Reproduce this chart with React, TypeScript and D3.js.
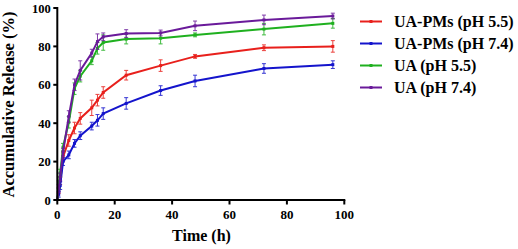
import React from "react";
import * as d3 from "d3";

const times = [0.5, 1, 2, 4, 6, 8, 12, 14, 16, 24, 36, 48, 72, 96];
const seriesNames = ["UA-PMs (pH 5.5)", "UA-PMs (pH 7.4)", "UA (pH 5.5)", "UA (pH 7.4)"];
const seriesColors = ["#e8201c", "#1414cc", "#1fb01f", "#6a1a9a"];
const pmsPh55 = [5, 10, 22.5, 31, 37.5, 42.5, 48, 52, 56, 65, 70, 74.8, 79.3, 80];
const pmsPh55Err = [1.5, 2, 2.5, 3, 3, 3, 4, 3, 3, 2.5, 3, 1, 1.5, 3];
const pmsPh74 = [3, 7.5, 20, 23.5, 29.5, 33.5, 38.5, 41.5, 45, 50.3, 57, 62, 68.5, 70.5];
const pmsPh74Err = [1.5, 2, 2, 2, 2, 2, 2, 3, 3, 3, 2.5, 3, 2.5, 2];
const uaPh55 = [8, 14, 27.5, 40.5, 58, 64.5, 72.5, 79, 82, 83.8, 84.3, 86, 89, 92];
const uaPh55Err = [2, 2, 2, 3, 3, 3, 2, 3, 4, 2.5, 3, 1, 3, 2.5];
const uaPh74 = [6, 12, 25, 43.5, 60, 67.5, 76.5, 82.5, 85, 86.7, 87, 90.7, 93.8, 95.8];
const uaPh74Err = [2, 2, 2, 3, 3, 5, 2, 4, 2, 2, 1.5, 2.5, 2.5, 1.5];
const xTicks = [0, 20, 40, 60, 80, 100];
const yTicks = [0, 20, 40, 60, 80, 100];

const allValues = [pmsPh55, pmsPh74, uaPh55, uaPh74];
const allErrors = [pmsPh55Err, pmsPh74Err, uaPh55Err, uaPh74Err];

export default function App() {
  const W = 518, H = 249;
  const x = d3.scaleLinear().domain([0, 100]).range([57.3, 344.3]);
  const y = d3.scaleLinear().domain([0, 100]).range([200, 8]);
  const font = "Liberation Serif";
  const line = d3
    .line<[number, number]>()
    .x((d) => x(d[0]))
    .y((d) => y(d[1]));

  return (
    <svg width={W} height={H} style={{ position: "absolute", left: 0, top: 0, background: "#fff" }}>
      {allValues.map((vals, si) => {
        const c = seriesColors[si];
        const pts: [number, number][] = [[0, 0], ...times.map((t, i) => [t, vals[i]] as [number, number])];
        return (
          <g key={si}>
            <path d={line(pts) || ""} fill="none" stroke={c} strokeWidth={2} />
            {times.map((t, i) => {
              const e = allErrors[si][i];
              const cx = x(t);
              return (
                <g key={i} stroke={c} strokeWidth={1} opacity={0.85}>
                  <line x1={cx} x2={cx} y1={y(vals[i] - e)} y2={y(vals[i] + e)} />
                  <line x1={cx - 2} x2={cx + 2} y1={y(vals[i] - e)} y2={y(vals[i] - e)} />
                  <line x1={cx - 2} x2={cx + 2} y1={y(vals[i] + e)} y2={y(vals[i] + e)} />
                </g>
              );
            })}
            {times.map((t, i) => (
              <rect key={"m" + i} x={x(t) - 1.5} y={y(vals[i]) - 1.5} width={3} height={3} fill={c} />
            ))}
          </g>
        );
      })}
      {/* axes */}
      <line x1={x(0)} x2={x(0)} y1={y(100) - 1} y2={y(0) + 1} stroke="#000" strokeWidth={2} />
      <line x1={x(0) - 1} x2={x(100) + 1} y1={y(0)} y2={y(0)} stroke="#000" strokeWidth={2} />
      {yTicks.map((v) => (
        <g key={v}>
          <line x1={x(0) - 4} x2={x(0)} y1={y(v)} y2={y(v)} stroke="#000" strokeWidth={2} />
          <text x={x(0) - 6.5} y={y(v) + 4.5} textAnchor="end" fontFamily={font} fontWeight="bold" fontSize={12.5}>
            {v}
          </text>
        </g>
      ))}
      {xTicks.map((v) => (
        <g key={v}>
          <line x1={x(v)} x2={x(v)} y1={y(0)} y2={y(0) + 4.5} stroke="#000" strokeWidth={2} />
          <text x={x(v)} y={218.5} textAnchor="middle" fontFamily={font} fontWeight="bold" fontSize={13}>
            {v}
          </text>
        </g>
      ))}
      <text x={201.5} y={240.5} textAnchor="middle" fontFamily={font} fontWeight="bold" fontSize={16}>
        Time (h)
      </text>
      <text
        transform={`translate(14,104.5) rotate(-90)`}
        textAnchor="middle"
        fontFamily={font}
        fontWeight="bold"
        fontSize={16.5}
      >
        Accumulative Release (%)
      </text>
      {seriesNames.map((n, i) => {
        const ly = 21.5 + i * 22;
        return (
          <g key={n}>
            <line x1={360} x2={382} y1={ly} y2={ly} stroke={seriesColors[i]} strokeWidth={2} />
            <rect x={369.5} y={ly - 1.5} width={3} height={3} fill={seriesColors[i]} />
            <text x={394} y={ly + 5.5} fontFamily={font} fontWeight="bold" fontSize={16}>
              {n}
            </text>
          </g>
        );
      })}
    </svg>
  );
}
